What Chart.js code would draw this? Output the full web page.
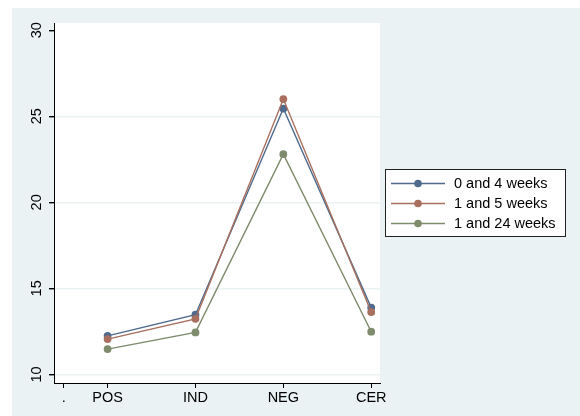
<!DOCTYPE html>
<html>
<head>
<meta charset="utf-8">
<script src="https://cdn.jsdelivr.net/npm/chart.js@4/dist/chart.umd.min.js"></script>
<style>
  html, body { margin: 0; padding: 0; background: #ffffff; }
  #wrap { width: 580px; height: 416px; position: relative; }
</style>
</head>
<body>
<div id="wrap"><canvas id="c"></canvas></div>
<script>
// Categories on the x axis ("." is an empty slot before POS)
const categories = ['.', 'POS', 'IND', 'NEG', 'CER'];
const categoryPositions = [0.5, 1, 2, 3, 4];

// Mean scores per category for each interval
const seriesLabels = ['0 and 4 weeks', '1 and 5 weeks', '1 and 24 weeks'];
const weeks0and4  = [12.24, 13.47, 25.45, 13.88];
const weeks1and5  = [12.05, 13.23, 26.0, 13.62];
const weeks1and24 = [11.47, 12.44, 22.8, 12.48];
const seriesValues = [weeks0and4, weeks1and5, weeks1and24];
const seriesColors = ['#4f6a8c', '#a86f5e', '#7e8b6c'];

// y tick labels
const yTicks = [10, 15, 20, 25, 30];
const yGridValues = [10, 15, 20, 25];

const dataPositions = categoryPositions.slice(1);

const FONT = '"Liberation Sans", Arial, sans-serif';
const FONT_SIZE = 14.5;
const PANEL = '#eaf2f3';

const datasets = seriesValues.map((vals, i) => ({
  label: seriesLabels[i],
  data: vals.map((v, j) => ({ x: dataPositions[j], y: v })),
  borderColor: seriesColors[i],
  backgroundColor: seriesColors[i],
  pointBackgroundColor: seriesColors[i],
  pointBorderColor: seriesColors[i],
  pointBorderWidth: 0,
  pointRadius: 3.9,
  borderWidth: 1.4,
  tension: 0,
  order: seriesValues.length - i
}));

const panelPlugin = {
  id: 'panel',
  beforeDraw(chart) {
    const { ctx, chartArea: a } = chart;
    ctx.save();
    ctx.fillStyle = '#ffffff';
    ctx.fillRect(0, 0, chart.width, chart.height);
    ctx.fillStyle = PANEL;
    ctx.fillRect(12, 8, chart.width - 12, chart.height - 8);
    ctx.fillStyle = '#ffffff';
    ctx.fillRect(a.left, a.top, a.right - a.left, a.bottom - a.top);
    ctx.restore();
  }
};

// Vertical (rotated) labels on the y axis
const yLabelPlugin = {
  id: 'yLabels',
  afterDraw(chart) {
    const { ctx } = chart;
    const ys = chart.scales.y;
    ctx.save();
    ctx.fillStyle = '#000000';
    ctx.font = FONT_SIZE + 'px ' + FONT;
    ctx.textAlign = 'center';
    ctx.textBaseline = 'middle';
    yTicks.forEach(v => {
      const py = ys.getPixelForValue(v);
      ctx.save();
      ctx.translate(37, py);
      ctx.rotate(-Math.PI / 2);
      ctx.fillText(String(v), 0, 0);
      ctx.restore();
    });
    ctx.restore();
  }
};

// Boxed legend at the right of the plot
const legendPlugin = {
  id: 'boxLegend',
  afterDraw(chart) {
    const { ctx } = chart;
    const box = { x: 385.5, y: 169.5, w: 180, h: 67 };
    ctx.save();
    ctx.fillStyle = '#ffffff';
    ctx.fillRect(box.x, box.y, box.w, box.h);
    ctx.strokeStyle = '#222222';
    ctx.lineWidth = 1;
    ctx.strokeRect(box.x, box.y, box.w, box.h);
    ctx.font = FONT_SIZE + 'px ' + FONT;
    ctx.textBaseline = 'middle';
    ctx.textAlign = 'left';
    chart.data.datasets.forEach((ds, i) => {
      const cy = 183.5 + i * 20;
      ctx.strokeStyle = ds.borderColor;
      ctx.lineWidth = 1.4;
      ctx.beginPath();
      ctx.moveTo(391, cy);
      ctx.lineTo(445, cy);
      ctx.stroke();
      ctx.fillStyle = ds.borderColor;
      ctx.beginPath();
      ctx.arc(418, cy, 3.8, 0, Math.PI * 2);
      ctx.fill();
      ctx.fillStyle = '#000000';
      ctx.fillText(ds.label, 454, cy + 0.5);
    });
    ctx.restore();
  }
};

new Chart(document.getElementById('c'), {
  type: 'line',
  data: { datasets },
  options: {
    responsive: true,
    maintainAspectRatio: false,
    animation: false,
    layout: { padding: { left: 0, top: 23, right: 200, bottom: 0 } },
    plugins: { legend: { display: false }, tooltip: { enabled: false } },
    scales: {
      x: {
        type: 'linear',
        min: 0.39,
        max: 4.1,
        afterBuildTicks: s => { s.ticks = categoryPositions.map(v => ({ value: v })); },
        afterFit: s => { s.height = 33; },
        ticks: {
          autoSkip: false,
          maxRotation: 0,
          padding: 1.5,
          color: '#000000',
          font: { family: FONT, size: FONT_SIZE },
          callback: v => {
            const k = categoryPositions.indexOf(v);
            return k >= 0 ? categories[k] : '';
          }
        },
        grid: { drawOnChartArea: false, drawTicks: true, tickLength: 5, tickColor: '#000000' },
        border: { display: true, color: '#000000', width: 1 }
      },
      y: {
        type: 'linear',
        min: 9.5,
        max: 30.42,
        afterBuildTicks: s => { s.ticks = yTicks.map(v => ({ value: v })); },
        afterFit: s => { s.width = 54; },
        ticks: { display: false },
        grid: {
          drawTicks: true,
          tickLength: 5,
          tickColor: '#000000',
          lineWidth: 1.4,
          color: c => (c.tick && yGridValues.includes(c.tick.value)) ? PANEL : 'rgba(0,0,0,0)'
        },
        border: { display: true, color: '#000000', width: 1 }
      }
    }
  },
  plugins: [panelPlugin, yLabelPlugin, legendPlugin]
});
</script>
</body>
</html>
